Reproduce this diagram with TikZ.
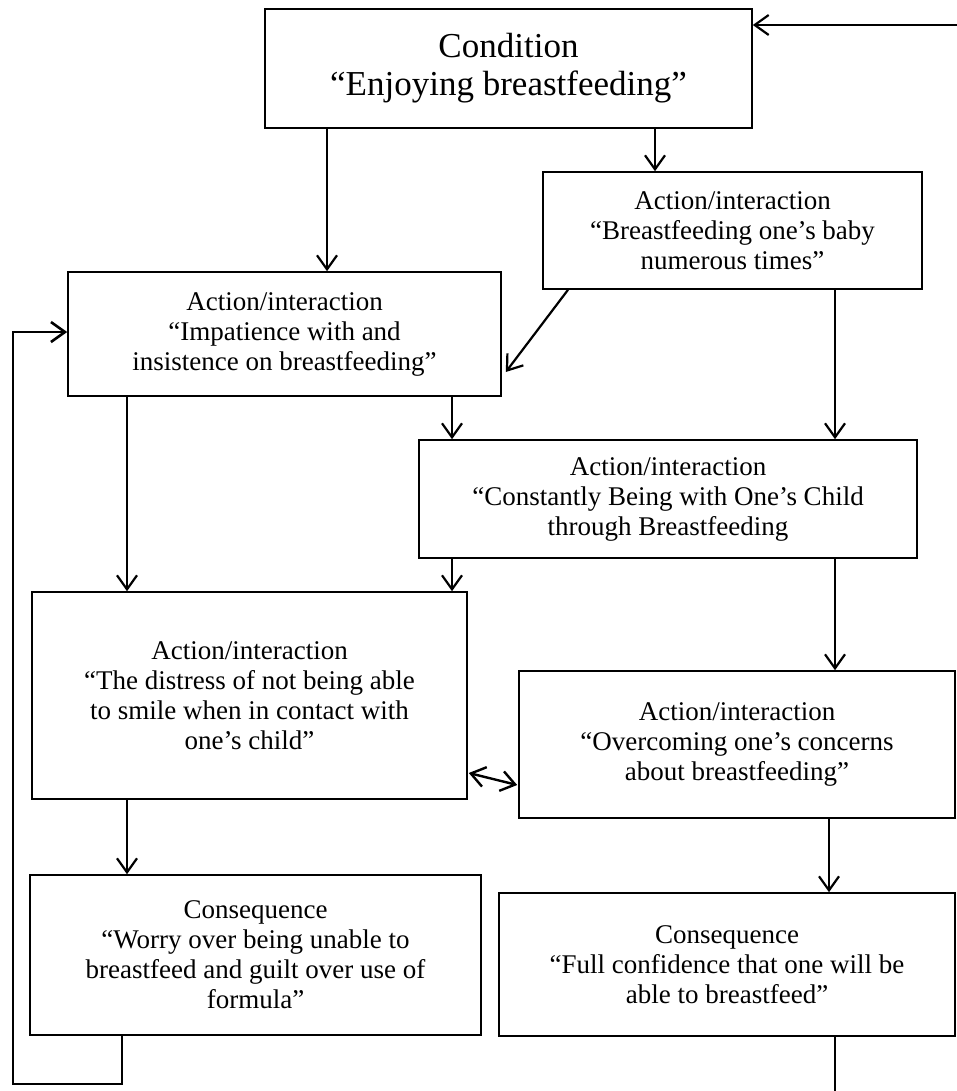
\documentclass[tikz,border=0pt]{standalone}
\usepackage{fontspec}
\setmainfont{Liberation Serif}
\usetikzlibrary{arrows.meta,positioning,calc}

\begin{document}
\begin{tikzpicture}[x=0.5pt,y=-0.5pt]
    \tikzstyle{stage}=[draw, line width=0.8pt, align=center, inner sep=0pt, font=\fontsize{13.5}{15}\selectfont]
    \tikzstyle{connect}=[-{Straight Barb[length=7pt,width=10pt]}, line width=1.1pt]
    \tikzstyle{both}=[{Straight Barb[length=7pt,width=10pt]}-{Straight Barb[length=7pt,width=10pt]}, line width=1.2pt]
    \tikzstyle{feedback}=[line width=1.3pt]
    \useasboundingbox (0,0) rectangle (957,1091);
    % boxes
    \node[stage, minimum width=243.5pt, minimum height=59.5pt, font=\fontsize{17.5}{19}\selectfont] (cond) at (508.5,68.5) {Condition\\“Enjoying breastfeeding”};
    \node[stage, minimum width=189.5pt, minimum height=58.5pt] (breast) at (732.5,230.5) {Action/interaction\\“Breastfeeding one’s baby\\numerous times”};
    \node[stage, minimum width=216.5pt, minimum height=62pt] (impat) at (284.5,334) {Action/interaction\\“Impatience with and\\insistence on breastfeeding”};
    \node[stage, minimum width=249pt, minimum height=59pt] (const) at (668,499) {Action/interaction\\“Constantly Being with One’s Child\\through Breastfeeding};
    \node[stage, minimum width=217.5pt, minimum height=103.5pt] (distress) at (249.5,695.5) {Action/interaction\\“The distress of not being able\\to smile when in contact with\\one’s child”};
    \node[stage, minimum width=218pt, minimum height=73.5pt] (overcome) at (737,744.5) {Action/interaction\\“Overcoming one’s concerns\\about breastfeeding”};
    \node[stage, minimum width=225.5pt, minimum height=80pt] (worry) at (255.5,955) {Consequence\\“Worry over being unable to\\breastfeed and guilt over use of\\formula”};
    \node[stage, minimum width=228pt, minimum height=71.5pt] (confid) at (727,964.5) {Consequence\\“Full confidence that one will be\\able to breastfeed”};
    % columns for the connectors
    \coordinate (xa) at (327,0);
    \coordinate (xb) at (655,0);
    \coordinate (xc) at (568,0);
    \coordinate (xd) at (835,0);
    \coordinate (xe) at (452,0);
    \coordinate (xf) at (127,0);
    \coordinate (xg) at (829,0);
    \coordinate (xh) at (122,0);
    \coordinate (back) at (13,1084);
    \coordinate (inright) at (957,25);
    \coordinate (outdown) at (835,1091);
    % connectors
    \path (cond.south -| xa) edge [connect] (impat.north -| xa)
    (cond.south -| xb) edge [connect] (breast.north -| xb)
    (breast.south -| xc) edge [connect] ($(impat.east)+(4,38)$)
    (breast.south -| xd) edge [connect] (const.north -| xd)
    (impat.south -| xe) edge [connect] (const.north -| xe)
    (impat.south -| xf) edge [connect] (distress.north -| xf)
    (const.south -| xe) edge [connect] (distress.north -| xe)
    (const.south -| xd) edge [connect] (overcome.north -| xd)
    (distress.south -| xf) edge [connect] (worry.north -| xf)
    (overcome.south -| xg) edge [connect] (confid.north -| xg)
    (inright) edge [connect] (cond.east |- inright);
    \draw[both] ($(distress.east)+(1,77.5)$) -- ($(overcome.west)+(-1,40.5)$);
    % loop back to the impatience box
    \draw[connect, feedback] (worry.south -| xh) |- (back) |- ($(impat.west)+(0,-2)$);
    \draw[feedback] (confid.south -| outdown) -- (outdown);
\end{tikzpicture}
\end{document}
